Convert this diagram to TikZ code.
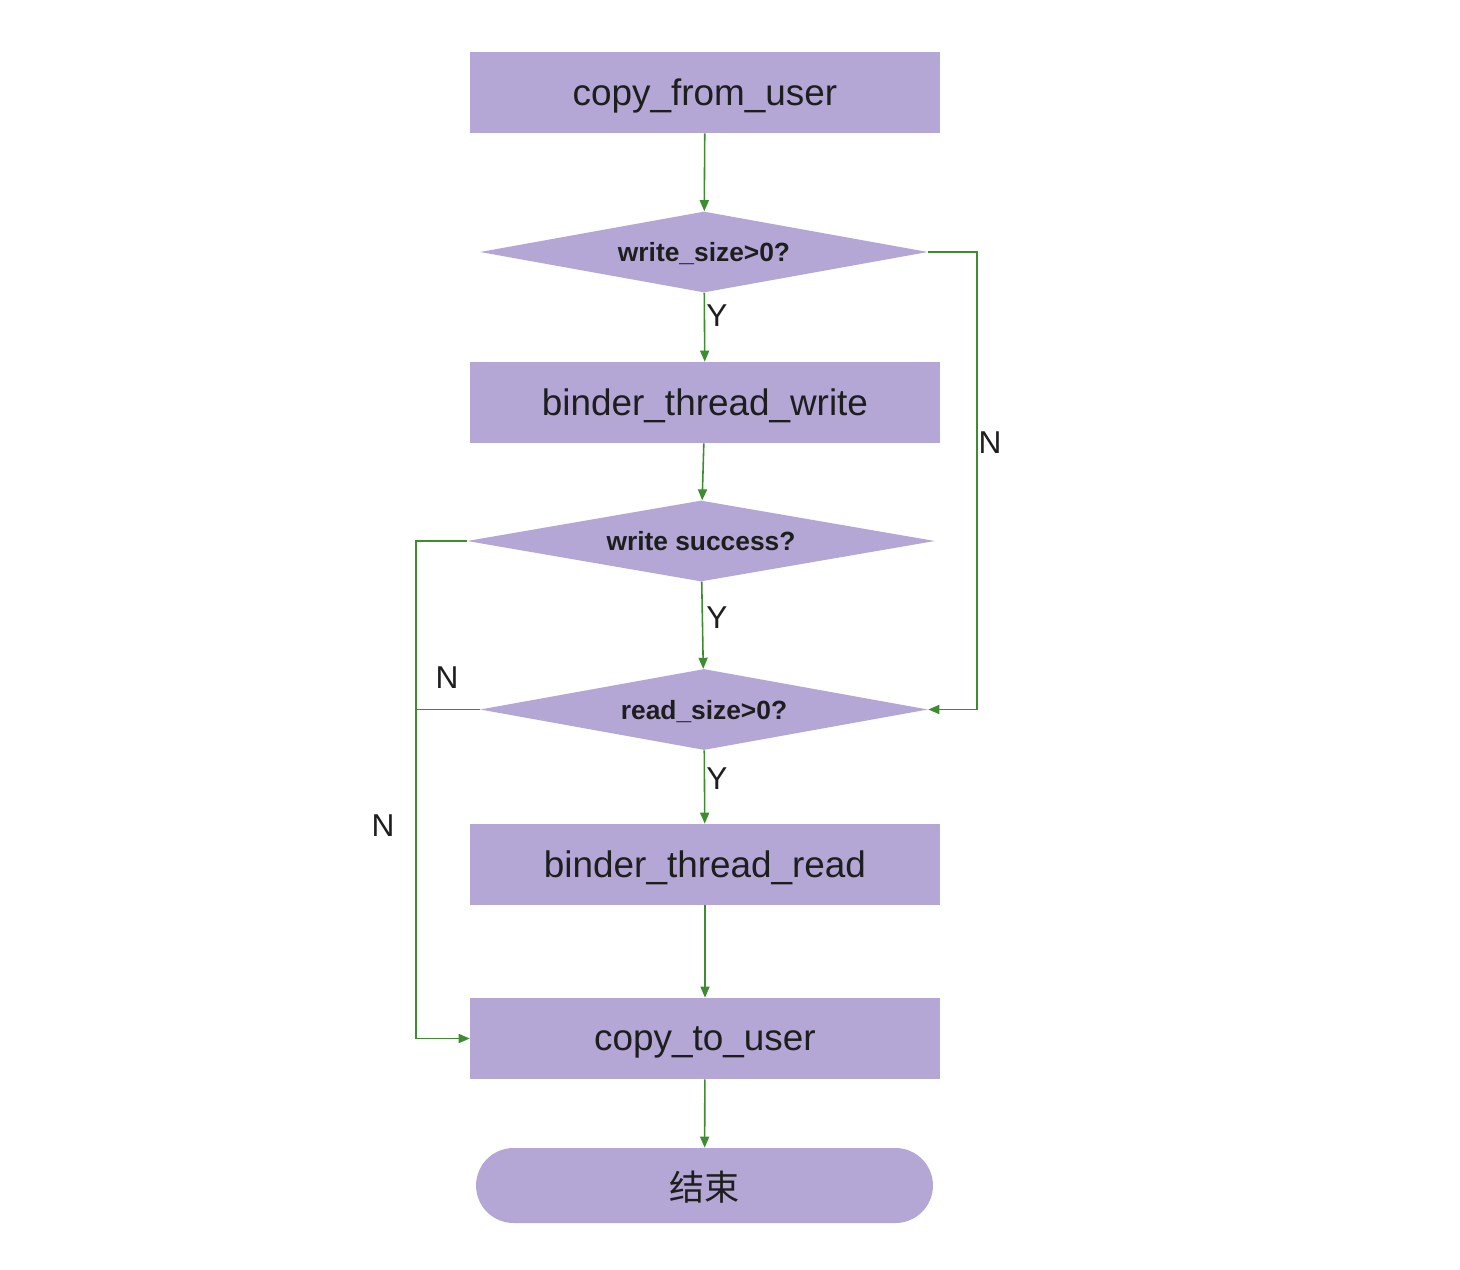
\documentclass[tikz,border=0pt]{standalone}
\usepackage{fontspec}
\setmainfont{Liberation Sans}
\newfontfamily\cjkfont{Noto Sans CJK SC}
\usepackage{xcolor}
\usepackage{tikz}
\usetikzlibrary{arrows.meta}
\usetikzlibrary{shapes.geometric}
\definecolor{boxfill}{RGB}{180,167,214}
\definecolor{flowgreen}{RGB}{62,140,48}
\definecolor{inktext}{RGB}{30,30,30}
\tikzset{
    fnode/.style = {align=center, inner sep=0pt, text centered, fill=boxfill, text=inktext, text depth=0pt},
    proc_node/.style = {fnode, rectangle, minimum width=9.4cm, minimum height=1.62cm, font=\fontsize{21}{25}\selectfont},
    cond_node/.style = {fnode, diamond, aspect=5.5, minimum width=8.96cm, minimum height=1.62cm, font=\bfseries\fontsize{15}{18}\selectfont},
    term_node/.style = {fnode, rectangle, rounded corners=0.75cm, minimum width=9.14cm, minimum height=1.5cm, font=\cjkfont\fontsize{20}{24}\selectfont},
    yn_label/.style = {text=inktext, inner sep=0pt, font=\fontsize{18}{22}\selectfont}
}

\begin{document}
\begin{tikzpicture}
            [x=0.02cm, y=-0.02cm, >={Triangle[length=2.2mm, width=1.8mm]},
            flow/.style={draw=flowgreen, line width=0.9pt}]

            \useasboundingbox (0,0) rectangle (1460,1270);

            % boxes and decisions
            \node [proc_node] (from_user) at (705,92.5) {copy\_from\_user};
            \node [cond_node] (write_size) at (704,252) {write\_size>0?};
            \node [proc_node] (thread_write) at (705,402.5) {binder\_thread\_write};
            \node [cond_node, minimum width=9.36cm] (write_ok) at (701,541) {write success?};
            \node [cond_node] (read_size) at (704,709.5) {read\_size>0?};
            \node [proc_node] (thread_read) at (705,864.5) {binder\_thread\_read};
            \node [proc_node] (to_user) at (705,1038.5) {copy\_to\_user};
            \node [term_node] (finish) at (704.5,1185.5) {结束};

            % main line
            \draw [flow, ->] (from_user) -- (write_size);
            \draw [flow, ->] (write_size) -- (thread_write);
            \draw [flow, ->] (thread_write) -- (write_ok);
            \draw [flow, ->] (write_ok) -- (read_size);
            \draw [flow, ->] (read_size) -- (thread_read);
            \draw [flow, ->] (thread_read) -- (to_user);
            \draw [flow, ->] (to_user) -- (finish);

            % side branches
            \draw [flow, ->] (write_size.east) -- (977,252) |- (read_size.east);
            \draw [flow, ->] (write_ok.west) -- (416,541) |- (to_user.west);
            \draw [flow] (read_size.west) -- (416,709.5);

            \node [yn_label] (y_one) at (717,316) {Y};
            \node [yn_label] (y_two) at (717,618) {Y};
            \node [yn_label] (y_three) at (717,779) {Y};
            \node [yn_label] (n_right) at (990,443) {N};
            \node [yn_label] (n_mid) at (447,678) {N};
            \node [yn_label] (n_left) at (383,826) {N};
        \end{tikzpicture}
\end{document}
